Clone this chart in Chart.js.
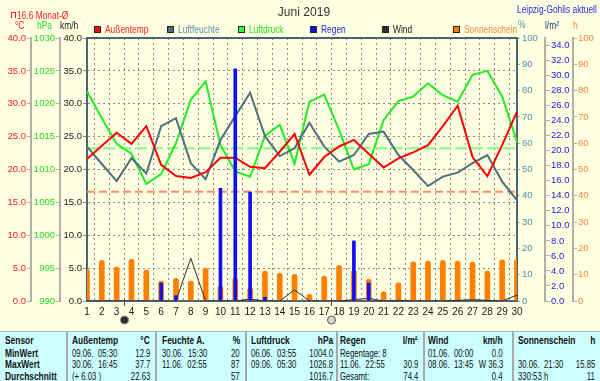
<!DOCTYPE html>
<html><head><meta charset="utf-8">
<script src="https://cdn.jsdelivr.net/npm/chart.js@4.4.1/dist/chart.umd.min.js"></script>
<style>
html,body{margin:0;padding:0}
body{width:600px;height:381px;background:#FFFFE1;position:relative;overflow:hidden;font-family:"Liberation Sans",Arial,sans-serif;}
#c{position:absolute;left:0;top:0;}
.t{position:absolute;white-space:pre;font-size:10.5px;line-height:12px;}
#tbl{position:absolute;left:0;top:331px;width:600px;height:50px;background:#CCFFFF;border-top:1px solid #A8B8B8;box-sizing:border-box;}
.sep{position:absolute;top:0;width:2px;height:50px;background:#A8A8A8;}
.b{font-weight:bold;}
.lg{position:absolute;width:5px;height:5px;border:1px solid #222;}
</style></head>
<body>
<canvas id="c" width="600" height="330"></canvas>
<div id="ov"></div>
<div id="tbl"></div>
<script>
// ---------- data ----------
const days = ['1','2','3','4','5','6','7','8','9','10','11','12','13','14','15','16','17','18','19','20','21','22','23','24','25','26','27','28','29','30'];
const tempAvg  = [21.6,23.6,25.6,23.9,26.6,20.7,19.0,18.7,19.6,21.8,21.8,20.4,20.2,22.7,25.4,19.2,21.9,23.5,24.5,22.4,20.3,21.7,22.6,23.7,26.6,29.7,21.9,19.0,23.7,28.8];
const humidity = [58.7,52.1,45.6,54.3,48.5,66.5,69.5,52.4,46.3,61.2,70.3,79.2,62.7,55.1,58.1,67.8,58.7,53.0,55.5,63.5,64.4,55.5,49.8,43.7,47.3,48.8,52.4,55.5,45.4,38.4];
const pressure = [1021.9,1017.8,1013.9,1012.4,1007.8,1009.3,1014.0,1020.6,1023.4,1013.7,1009.7,1008.9,1015.1,1016.8,1010.9,1020.3,1021.4,1016.0,1010.0,1010.8,1017.5,1020.4,1021.1,1023.1,1021.3,1020.3,1024.4,1025.0,1021.1,1014.2];
const rain     = [0,0,0,0,0,2.4,0.7,0,0,15.0,30.9,14.5,0.5,0,0,0,0,0,8.0,2.4,0,0,0,0,0,0,0,0,0,0];
const wind     = [0,0,0,0,0,0,0,6.5,0,0,0,0.3,0,0,1.7,0,0,0,0.2,0.4,0,0.1,0,0,0,0.1,0.2,0.1,0,0.9];
const sunshine = [12.0,15.5,12.9,15.8,11.8,7.6,8.6,7.6,12.4,5.7,8.8,5.0,11.4,10.5,10.1,2.5,9.5,13.6,11.7,8.2,3.5,6.9,14.9,15.2,15.5,15.2,14.8,11.4,15.7,15.85];
const tempMonthAvg = 16.6;
const pressureRef = 1013.25;
const moonPhases = [[3.5,'new'],[17.44,'full']];
const seriesNames = ['Außentemp','Luftfeuchte','Luftdruck','Regen','Wind','Sonnenschein'];
const tempTicks = [0,40,5], pressTicks=[990,1030,5], windTicks=[0,40,5], humTicks=[0,100,10], rainTicks=[0,35,2], sunTicks=[0,100,10];

const sensorRows = ['Sensor','MinWert','MaxWert','Durchschnitt'];
const tableGroups = [
  {name:'Außentemp', unit:'°C', left:['09.06.  05:30','30.06.  16:45','(+ 6.03 )'], right:['12.9','37.7','22.63']},
  {name:'Feuchte A.', unit:'%', left:['30.06.  15:30','11.06.  02:55',''], right:['20','87','57']},
  {name:'Luftdruck', unit:'hPa', left:['06.06.  03:55','09.06.  05:30',''], right:['1004.0','1026.8','1016.7']},
  {name:'Regen', unit:'l/m²', left:['Regentage: 8','11.06.  22:55','Gesamt:'], right:['','30.9','74.4']},
  {name:'Wind', unit:'km/h', left:['01.06.  00:00','08.06.  13:45',''], right:['0.0','W 36.3','0.4']},
  {name:'Sonnenschein', unit:'h', left:['','30.06.  21:30','330:53 h'], right:['','15.85','11']}
];

// ---------- styling ----------
const F = '"Liberation Sans",Arial,sans-serif';
const SX = 0.8;
const col = {temp:'#FF0000', hum:'#4E6E82', press:'#22EE22', rain:'#1010FF', wind:'#303030', sun:'#FF8000'};
const txtCol = {temp:'#FF2020', hum:'#4F8FB0', press:'#22DD22', rain:'#2020E8', wind:'#202020', sun:'#FF8040'};
const frame = '#4A6478', axisGray = '#B0B0A8', gridCol = '#8C8C8C';
Chart.defaults.font.family = F;
Chart.defaults.font.size = 9.5;

const ov = document.getElementById('ov');
function txt(s, x, y, color, opts={}) {
  const d = document.createElement('div');
  d.className = 't' + (opts.bold ? ' b' : '');
  d.textContent = s;
  d.style.color = color;
  d.style.top = (y - 6) + 'px';
  if (opts.size) d.style.fontSize = opts.size + 'px';
  const k = opts.sx ?? SX;
  d.style.transform = 'scaleX(' + k + ')';
  if (opts.align === 'right') { d.style.right = (600 - x) + 'px'; d.style.transformOrigin = 'right center'; }
  else if (opts.align === 'center') { d.style.left = (x - 100) + 'px'; d.style.width = '200px'; d.style.textAlign = 'center'; d.style.transformOrigin = 'center center'; }
  else { d.style.left = x + 'px'; d.style.transformOrigin = 'left center'; }
  (opts.parent || ov).appendChild(d);
  return d;
}

function yAxis(pos, weight, ticksDef, width, color, fmt, opts={}) {
  return {
    type:'linear', position:pos, weight:weight, min:ticksDef[0], max:ticksDef[1],
    ticks:{stepSize:ticksDef[2], color:color, padding:opts.padding ?? 1, autoSkip:false, includeBounds:false,
      callback:fmt, font:{family:F, size:9.5}},
    grid:{drawOnChartArea:!!opts.grid, color:opts.grid ? gridCol : (opts.tickCol||axisGray), tickLength:opts.tick ?? 4, tickColor:opts.tickCol||axisGray, lineWidth:1},
    border:{color:opts.border||axisGray, width:2, dash:opts.grid?[2,3]:[]},
    afterFit:(s)=>{s.width = width;}
  };
}

const decor = {
  id:'decor',
  afterDraw(chart){
    const {ctx, chartArea:a, scales:{x}} = chart;
    ctx.save();
    ctx.strokeStyle = frame; ctx.lineWidth = 2;
    ctx.beginPath(); ctx.moveTo(a.left-1, a.top); ctx.lineTo(a.right+1, a.top); ctx.stroke();
    moonPhases.forEach(([d, kind]) => {
      const px = Math.round(x.getPixelForValue(d-1)) + 0.5;
      ctx.strokeStyle = '#555'; ctx.lineWidth = 1;
      ctx.beginPath(); ctx.moveTo(px, a.bottom-3); ctx.lineTo(px, a.bottom+5); ctx.stroke();
      ctx.beginPath(); ctx.arc(px, a.bottom+19, 4, 0, Math.PI*2);
      ctx.fillStyle = kind==='new' ? '#2A2A2A' : '#D8D8D0';
      ctx.fill(); ctx.strokeStyle = kind==='new' ? '#888' : '#555'; ctx.stroke();
    });
    ctx.restore();
  }
};

new Chart(document.getElementById('c'), {
  data:{
    labels:days,
    datasets:[
      {type:'bar', label:seriesNames[3], data:rain, yAxisID:'yR', backgroundColor:col.rain, barThickness:3, grouped:false, order:0},
      {type:'line', label:seriesNames[0], data:tempAvg, yAxisID:'yT', borderColor:col.temp, borderWidth:2, pointRadius:0, tension:0, order:2},
      {type:'line', label:seriesNames[1], data:humidity, yAxisID:'yH', borderColor:col.hum, borderWidth:2, pointRadius:0, tension:0, order:3},
      {type:'line', label:seriesNames[2], data:pressure, yAxisID:'yP', borderColor:col.press, borderWidth:2, pointRadius:0, tension:0, order:4},
      {type:'line', label:seriesNames[4], data:wind, yAxisID:'yW', borderColor:col.wind, borderWidth:1, pointRadius:0, tension:0, order:1},
      {type:'line', label:'Monat-Ø', data:days.map(()=>tempMonthAvg), yAxisID:'yT', borderColor:'#FF8A6A', borderWidth:2, borderDash:[8,4], pointRadius:0, order:6},
      {type:'line', label:'Normaldruck', data:days.map(()=>pressureRef), yAxisID:'yP', borderColor:'#80FF80', borderWidth:2, borderDash:[12,4], pointRadius:0, order:7},
      {type:'bar', label:seriesNames[5], data:sunshine, yAxisID:'yS', backgroundColor:col.sun, barThickness:5, grouped:false,
        borderRadius:{topLeft:2.5, topRight:2.5, bottomLeft:0, bottomRight:0}, borderSkipped:false, order:9}
    ]
  },
  options:{
    responsive:false, animation:false, devicePixelRatio:1,
    layout:{padding:{top:38,left:0,right:0,bottom:0}},
    plugins:{legend:{display:false}, tooltip:{enabled:false}},
    scales:{
      x:{type:'category', offset:false,
        ticks:{color:'#202020', padding:5, autoSkip:false, maxRotation:0, font:{family:F, size:10}},
        grid:{color:gridCol, drawTicks:false, lineWidth:1},
        border:{color:frame, width:2, dash:[2,3]},
        afterFit:(s)=>{s.height = 29;}},
      yW: yAxis('left', 0, windTicks, 27, txtCol.wind, v=>v.toFixed(1), {grid:true, border:frame, tickCol:gridCol}),
      yP: yAxis('left', 1, pressTicks, 29, txtCol.press, v=>String(v)),
      yT: yAxis('left', 2, tempTicks, 31, txtCol.temp, v=>v.toFixed(1)),
      yH: yAxis('right', 0, humTicks, 28, txtCol.hum, v=>String(v), {border:frame, tick:3, padding:2}),
      yR: yAxis('right', 1, rainTicks, 28, txtCol.rain, v=>v.toFixed(1), {tick:5}),
      yS: yAxis('right', 2, sunTicks, 27, txtCol.sun, v=>String(v), {tick:4})
    }
  },
  plugins:[decor]
});

// ---------- header texts ----------
txt('Juni 2019', 304, 12, '#333', {align:'center', size:13, sx:0.93});
txt('Leipzig-Gohlis aktuell', 597, 9, '#2828E8', {align:'right'});
const icon = document.createElement('div');
icon.style.cssText = 'position:absolute;left:11px;top:12px;width:3px;height:5px;border:1px solid #FF2020;border-bottom:none;';
ov.appendChild(icon);
txt(tempMonthAvg + ' Monat-Ø', 17, 14.5, txtCol.temp);
txt('°C', 15, 25, txtCol.temp);
txt('hPa', 37, 25, txtCol.press);
txt('km/h', 60, 25, txtCol.wind);
txt('%', 518, 24, txtCol.hum);
txt('l/m²', 545, 25, '#203080');
txt('h', 573, 25, txtCol.sun);
const legendX = [94, 167, 238, 310, 382, 453];
const legendCols = [col.temp, col.hum, '#33FF33', col.rain, col.wind, col.sun];
const legendTxt = [txtCol.temp, '#5A8FB0', txtCol.press, txtCol.rain, txtCol.wind, txtCol.sun];
seriesNames.forEach((n,i)=>{
  const b = document.createElement('div'); b.className='lg';
  b.style.left = legendX[i]+'px'; b.style.top='26px'; b.style.background = legendCols[i];
  ov.appendChild(b);
  txt(n, legendX[i]+10.5, 29, legendTxt[i]);
});

// ---------- table ----------
const tbl = document.getElementById('tbl');
const rowY = [8, 20.5, 32.2, 44];
const colLeft = [72,162,251,340,428,518], colRight=[150,240,333,418,503,595], seps=[66,155,245,336,423,512];
seps.forEach(x=>{const s=document.createElement('div'); s.className='sep'; s.style.left=x+'px'; tbl.appendChild(s);});
sensorRows.forEach((r,i)=>txt(r, 5, rowY[i], '#111', {bold:true, parent:tbl}));
tableGroups.forEach((g,gi)=>{
  txt(g.name, colLeft[gi], rowY[0], '#111', {bold:true, parent:tbl});
  txt(g.unit, colRight[gi], rowY[0], '#111', {bold:true, align:'right', parent:tbl});
  g.left.forEach((s,i)=>{ if(s) txt(s, colLeft[gi], rowY[i+1], '#111', {parent:tbl, sx:0.74}); });
  g.right.forEach((s,i)=>{ if(s) txt(s, colRight[gi], rowY[i+1], '#111', {align:'right', parent:tbl, sx:0.74}); });
});
</script>
</body></html>
